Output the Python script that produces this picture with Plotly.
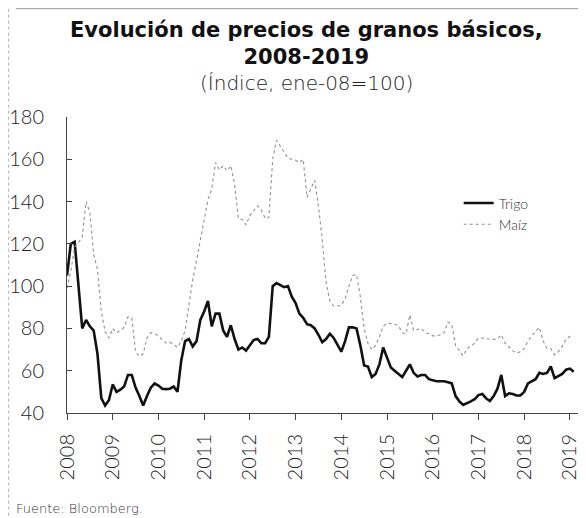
import plotly.graph_objects as go

# Monthly observations, Jan-2008 .. Feb-2019 (index ene-08 = 100)
start_year = 2008
trigo = [
    105, 120, 121, 101, 80, 84, 81, 79, 68, 47, 43.5, 46,
    53.5, 50, 51, 52.5, 58, 58, 52, 48, 43.5, 48, 52, 54,
    53, 51.5, 51.3, 51.5, 52.5, 50, 65, 74, 75, 71.5, 74, 84,
    88, 93, 81, 87, 87, 79, 76, 81.5, 75, 70, 71, 69.5,
    72, 74.5, 75, 73, 73, 76, 100, 101.5, 100.5, 99.5, 100, 95,
    92, 87, 85, 82, 81.5, 80, 77, 73.5, 75, 77.5, 75.5, 72.5,
    69, 74, 80.5, 80.5, 80, 72, 62.5, 62, 57, 58.5, 63, 71,
    66, 61.5, 60, 58.5, 57, 60, 63, 59, 57.3, 58, 58, 56,
    55.5, 55, 55, 55, 54.5, 54, 48, 45.5, 43.8, 44.5, 45.5, 46.5,
    48.5, 49, 47, 45.7, 48, 51.5, 58, 48, 49.3, 49, 48.3, 48.3,
    50, 54, 55, 56, 59, 58.5, 59, 62, 56.5, 57.5, 58.5, 60.5,
    61, 59.5,
]
maiz = [
    99, 107, 118.5, 121, 123, 140, 135, 115, 108, 88, 78.5, 75.5,
    80, 78, 79, 80.5, 85.5, 85, 69, 66.8, 68, 75.5, 78, 77.5,
    76.5, 74.5, 73, 73.5, 72.5, 71, 74, 79, 92, 103, 112, 122,
    131, 141, 146, 158.5, 155, 157, 154.5, 157, 148, 132, 131.5, 129,
    133.5, 136, 138, 136, 132, 132.5, 160, 169, 166, 163, 160.5, 160,
    159.5, 158.5, 160, 142, 146, 150, 138, 122, 102, 93, 90.6, 90.6,
    91, 94, 100, 105, 105.5, 95, 80, 73, 70, 72, 76, 81,
    82.5, 82.3, 82, 81.2, 78, 77.5, 86.4, 79, 79.5, 80, 78, 77.5,
    76.5, 76.5, 77, 78, 83, 82, 72, 69.5, 67, 70.5, 71.5, 73,
    75.5, 75.5, 75, 75, 74.8, 75, 77, 73, 71, 69.5, 68.3, 69,
    70.5, 74, 76.5, 78.7, 80.5, 74, 70.5, 70.5, 67.5, 69, 71.5, 75,
    76.2, 76.4,
]
x_years = [start_year + i / 12 for i in range(len(trigo))]

year_ticks = list(range(2008, 2020))
year_labels = [str(y) for y in year_ticks]
y_ticks = [40, 60, 80, 100, 120, 140, 160, 180]

FONT = "Lato"
TITLE_FONT = "DejaVu Sans"
fig = go.Figure()
fig.add_trace(go.Scatter(
    x=x_years, y=trigo, name="Trigo", mode="lines",
    line=dict(color="#111111", width=2.6),
))
fig.add_trace(go.Scatter(
    x=x_years, y=maiz, name="Maíz", mode="lines",
    line=dict(color="#8f8f8f", width=1.1, dash="dot"),
))

fig.update_layout(
    width=578, height=510,
    margin=dict(l=59, r=7, t=109, b=105, autoexpand=False),
    paper_bgcolor="white", plot_bgcolor="white",
    font=dict(family=FONT, color="#222222"),
    showlegend=True,
    legend=dict(
        x=0.765, y=0.762, xanchor="left", yanchor="top",
        font=dict(family=FONT, size=14, color="#333333", weight=300),
        bgcolor="rgba(0,0,0,0)", tracegroupgap=0,
    ),
)
fig.add_annotation(
    text="<b>Evolución de precios de granos básicos,</b><br><b>2008-2019</b>",
    xref="paper", yref="paper", x=0.467, y=1.0, yshift=101,
    xanchor="center", yanchor="top", showarrow=False,
    font=dict(family=TITLE_FONT, size=21, color="#111111"),
)
fig.add_annotation(
    text="(Índice, ene-08=100)",
    xref="paper", yref="paper", x=0.467, y=1.0, yshift=48,
    xanchor="center", yanchor="top", showarrow=False,
    font=dict(family=TITLE_FONT, size=20, color="#222222", weight=200),
)
fig.add_annotation(
    text="Fuente: Bloomberg.",
    xref="paper", yref="paper", x=0.0, xshift=-53, y=0.0, yshift=-86,
    xanchor="left", yanchor="top", showarrow=False,
    font=dict(family=TITLE_FONT, size=13, color="#333333", weight=200),
)

# faint frame lines of the original panel
fig.add_shape(type="line", xref="paper", yref="paper",
              x0=-0.1, x1=1.0, y0=1.366, y1=1.366,
              line=dict(color="#9a9a9a", width=1))
fig.add_shape(type="line", xref="paper", yref="paper",
              x0=-0.114, x1=-0.114, y0=1.366, y1=-0.35,
              line=dict(color="#b0b0b0", width=1, dash="dot"))

fig.update_xaxes(
    range=[2008, 2019.2], tickmode="array", tickvals=year_ticks,
    ticktext=year_labels, tickangle=-90, automargin=False,
    showgrid=False, zeroline=False,
    showline=True, linecolor="#444444", linewidth=1,
    ticks="outside", ticklen=6, tickcolor="#444444",
    tickfont=dict(family=FONT, size=20, color="#222222", weight=300),
    ticklabelstandoff=6,
)
fig.update_yaxes(
    range=[40, 180], tickmode="array", tickvals=y_ticks, automargin=False,
    showgrid=False, zeroline=False,
    showline=True, linecolor="#444444", linewidth=1,
    ticks="inside", ticklen=5, tickcolor="#444444",
    tickfont=dict(family=FONT, size=20, color="#222222", weight=300),
    ticklabelstandoff=18,
)

fig.write_html("out.html")
